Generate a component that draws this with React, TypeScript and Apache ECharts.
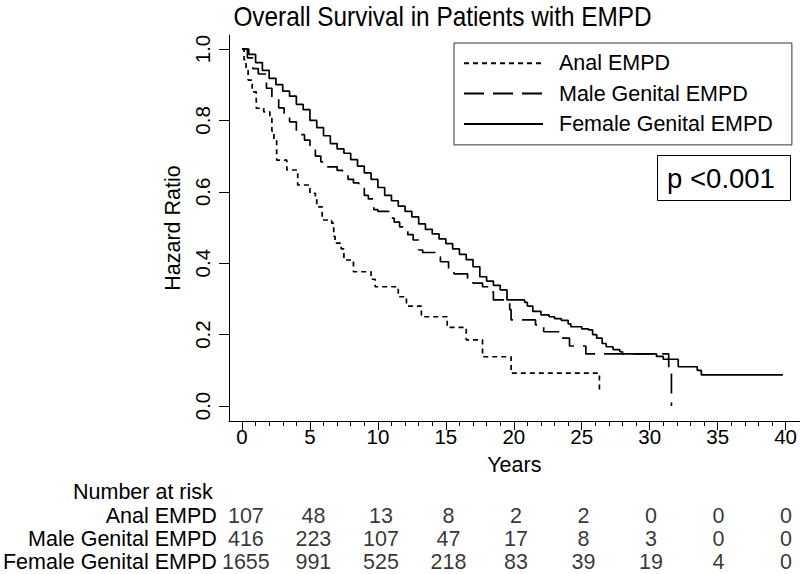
import React, { useEffect, useRef } from 'react';
import * as echarts from 'echarts';

const FONT = '"Liberation Sans", Arial, Helvetica, sans-serif';

// Kaplan-Meier curves (time in years, survival probability)
const analTime = [0, 0.15, 0.3, 0.45, 0.75, 1.05, 1.6, 2.05, 2.2, 2.35, 2.55, 3.3, 4.1, 5.0, 5.4, 5.5, 5.9, 6.6, 6.75, 6.85, 7.3, 7.5, 8.2, 9.5, 9.8, 11.5, 12.1, 13.2, 15.1, 16.5, 17.7, 19.8, 26.3];
const analSurv = [1, 0.97, 0.94, 0.913, 0.88, 0.834, 0.824, 0.806, 0.77, 0.745, 0.689, 0.661, 0.619, 0.596, 0.586, 0.558, 0.521, 0.512, 0.475, 0.456, 0.44, 0.409, 0.376, 0.355, 0.334, 0.306, 0.28, 0.25, 0.22, 0.185, 0.138, 0.092, 0.045];

const maleTime = [0, 0.4, 0.8, 1.2, 1.8, 2.2, 2.7, 3.1, 3.5, 4.0, 4.6, 5.0, 5.4, 5.8, 6.2, 7.0, 7.4, 7.8, 8.2, 8.6, 9.0, 9.3, 9.7, 10.0, 10.8, 11.2, 11.6, 12.2, 12.6, 13.0, 13.3, 14.3, 14.6, 15.2, 15.6, 16.6, 17.0, 17.7, 18.2, 18.5, 19.7, 19.8, 21.6, 22.2, 23.6, 24.1, 25.3, 31.4, 31.6];
const maleSurv = [1, 0.975, 0.945, 0.93, 0.89, 0.86, 0.835, 0.82, 0.796, 0.76, 0.745, 0.73, 0.7, 0.684, 0.67, 0.66, 0.645, 0.635, 0.625, 0.61, 0.59, 0.58, 0.55, 0.545, 0.526, 0.515, 0.502, 0.48, 0.465, 0.437, 0.43, 0.418, 0.404, 0.376, 0.37, 0.358, 0.344, 0.334, 0.32, 0.297, 0.27, 0.241, 0.227, 0.208, 0.19, 0.168, 0.146, 0.1, 0.0];

const femaleTime = [0, 0.5, 1, 1.5, 2, 2.5, 3, 3.5, 4, 4.5, 5, 5.5, 6, 6.5, 7, 7.5, 8, 8.5, 9, 9.5, 10, 10.5, 11, 11.5, 12, 12.5, 13, 13.5, 14, 14.5, 15, 15.5, 16, 16.5, 17, 17.5, 18, 18.5, 19, 19.5, 20.8, 21, 21.4, 22, 22.6, 23, 23.5, 24, 24.2, 25, 25.5, 25.8, 26.1, 26.5, 26.8, 27.3, 27.8, 28, 30.5, 31, 32.1, 33.5, 33.8, 39.8];
const femaleSurv = [1, 0.985, 0.962, 0.94, 0.918, 0.9, 0.882, 0.868, 0.845, 0.83, 0.8, 0.78, 0.757, 0.735, 0.72, 0.708, 0.69, 0.672, 0.653, 0.635, 0.612, 0.59, 0.575, 0.56, 0.545, 0.53, 0.51, 0.495, 0.482, 0.468, 0.455, 0.44, 0.425, 0.41, 0.39, 0.362, 0.35, 0.338, 0.325, 0.297, 0.29, 0.28, 0.265, 0.255, 0.25, 0.245, 0.24, 0.23, 0.222, 0.216, 0.213, 0.2, 0.19, 0.175, 0.166, 0.158, 0.152, 0.146, 0.139, 0.131, 0.11, 0.1, 0.087, 0.087];

// Number at risk table
const riskYears = [0, 5, 10, 15, 20, 25, 30, 35, 40];
const groupNames = ['Anal EMPD', 'Male Genital EMPD', 'Female Genital EMPD'];
const atRiskAnal = [107, 48, 13, 8, 2, 2, 0, 0, 0];
const atRiskMale = [416, 223, 107, 47, 17, 8, 3, 0, 0];
const atRiskFemale = [1655, 991, 525, 218, 83, 39, 19, 4, 0];

// Axis ticks
const xMajorTicks = [0, 5, 10, 15, 20, 25, 30, 35, 40];
const xMinorTicks = [1, 2, 3, 4, 6, 7, 8, 9, 11, 12, 13, 14, 16, 17, 18, 19, 21, 22, 23, 24, 26, 27, 28, 29, 31, 32, 33, 34, 36, 37, 38, 39];
const yTicks = [0, 0.2, 0.4, 0.6, 0.8, 1.0];

// R-style axis extension (about 4% beyond the data range)
const X_MIN = -0.9559;
const X_MAX = 41.029;
const Y_MIN = -0.04202;
const Y_MAX = 1.03922;

const zip = (t: number[], s: number[]) => t.map((v, i) => [v, s[i]]);

function buildOption() {
  const lineBase = {
    type: 'line' as const,
    xAxisIndex: 0,
    yAxisIndex: 0,
    step: 'end' as const,
    symbol: 'none',
    showSymbol: false,
    silent: true,
    itemStyle: { color: '#000' },
  };
  const riskRows = [atRiskAnal, atRiskMale, atRiskFemale];
  const tableData: any[] = [];
  riskRows.forEach((row, r) => {
    row.forEach((v, i) => tableData.push([riskYears[i], groupNames[r], v]));
  });

  return {
    animation: false,
    backgroundColor: '#fff',
    textStyle: { fontFamily: FONT, color: '#000' },
    grid: [
      { left: 229, right: 0, top: 35, bottom: 153 },
      { left: 242, right: 14, top: 504.75, height: 73.5 },
    ],
    xAxis: [
      {
        type: 'value', gridIndex: 0, min: X_MIN, max: X_MAX, position: 'bottom',
        name: 'Years', nameLocation: 'middle', nameGap: 33,
        nameTextStyle: { fontSize: 21.5, color: '#000', fontFamily: FONT },
        axisLine: { show: true, onZero: false, lineStyle: { color: '#000', width: 1 } },
        axisTick: { show: true, length: 9, customValues: xMajorTicks, lineStyle: { color: '#000', width: 1 } },
        axisLabel: { fontSize: 20.5, color: '#000', margin: 5, fontFamily: FONT, customValues: xMajorTicks },
        splitLine: { show: false },
      },
      {
        type: 'value', gridIndex: 0, min: X_MIN, max: X_MAX, position: 'bottom',
        axisLine: { show: false, onZero: false },
        axisTick: { show: true, length: 5, customValues: xMinorTicks, lineStyle: { color: '#000', width: 1 } },
        axisLabel: { show: false },
        splitLine: { show: false },
      },
      { type: 'value', gridIndex: 1, min: 0, max: 40, show: false },
    ],
    yAxis: [
      {
        type: 'value', gridIndex: 0, min: Y_MIN, max: Y_MAX, position: 'left',
        name: 'Hazard Ratio', nameLocation: 'middle', nameGap: 39,
        nameTextStyle: { fontSize: 21.5, color: '#000', fontFamily: FONT },
        axisLine: { show: true, onZero: false, lineStyle: { color: '#000', width: 1 } },
        axisTick: { show: true, length: 10, customValues: yTicks, lineStyle: { color: '#000', width: 1 } },
        axisLabel: {
          rotate: 90, fontSize: 20.5, color: '#000', margin: 16, fontFamily: FONT,
          customValues: yTicks,
          formatter: (v: number) => v.toFixed(1),
        },
        splitLine: { show: false },
      },
      {
        type: 'category', gridIndex: 1, data: groupNames, inverse: true,
        axisLine: { show: false }, axisTick: { show: false }, splitLine: { show: false },
        axisLabel: { interval: 0, fontSize: 21.5, color: '#000', margin: 29, fontFamily: FONT },
      },
    ],
    legend: {
      show: true,
      data: groupNames,
      orient: 'vertical',
      left: 454,
      top: 43,
      padding: [9.3, 19, 10, 9],
      itemWidth: 79,
      itemHeight: 14,
      itemGap: 8.3,
      borderColor: '#333',
      borderWidth: 1,
      selectedMode: false,
      itemStyle: { opacity: 0 },
      textStyle: { fontSize: 21.5, lineHeight: 22, color: '#000', fontFamily: FONT, padding: [0, 0, 0, 11] },
    },
    graphic: [
      {
        type: 'text', x: 442.5, y: 16, scaleX: 0.87,
        style: { text: 'Overall Survival in Patients with EMPD', fontSize: 28, fontFamily: FONT, fill: '#000', align: 'center', verticalAlign: 'middle' },
      },
      {
        type: 'text', x: 73, y: 492,
        style: { text: 'Number at risk', fontSize: 21.5, fontFamily: FONT, fill: '#000', align: 'left', verticalAlign: 'middle' },
      },
      {
        type: 'rect', shape: { x: 657.5, y: 155.5, width: 133, height: 45 },
        style: { fill: '#fff', stroke: '#000', lineWidth: 1 },
      },
      {
        type: 'text', x: 721, y: 178,
        style: { text: 'p <0.001', fontSize: 27.5, fontFamily: FONT, fill: '#000', align: 'center', verticalAlign: 'middle' },
      },
    ],
    series: [
      { ...lineBase, name: 'Anal EMPD', data: zip(analTime, analSurv), lineStyle: { color: '#000', width: 1.7, type: [5, 4] } },
      { ...lineBase, name: 'Male Genital EMPD', data: zip(maleTime, maleSurv), lineStyle: { color: '#000', width: 1.7, type: [20, 9] } },
      { ...lineBase, name: 'Female Genital EMPD', data: zip(femaleTime, femaleSurv), lineStyle: { color: '#000', width: 1.7, type: 'solid' } },
      {
        type: 'scatter', name: 'risk', xAxisIndex: 2, yAxisIndex: 1, symbolSize: 0, silent: true,
        data: tableData,
        label: {
          show: true, position: 'inside', fontSize: 21.5, color: '#000', fontFamily: FONT,
          formatter: (p: any) => String(p.value[2]),
        },
      },
    ],
  };
}

export default function App() {
  const ref = useRef<HTMLDivElement>(null);
  useEffect(() => {
    const chart = echarts.init(ref.current!, null, { renderer: 'svg' });
    chart.setOption(buildOption() as any);
    return () => chart.dispose();
  }, []);
  return (
    <div
      ref={ref}
      style={{ position: 'fixed', left: 0, top: 0, width: 800, height: 574, background: '#fff' }}
    />
  );
}
